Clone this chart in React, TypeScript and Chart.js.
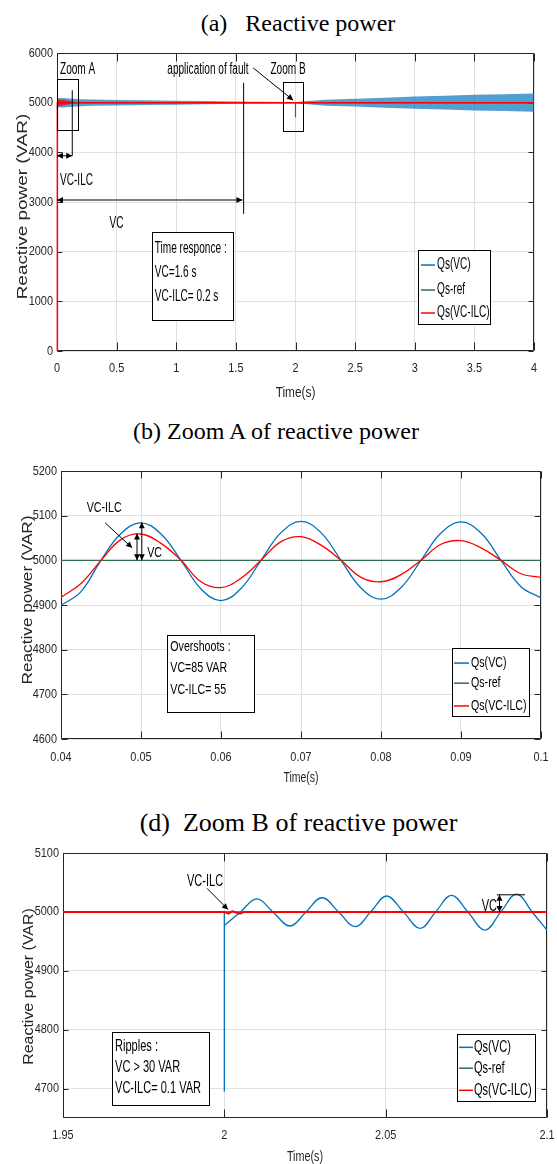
import React, { useEffect, useRef } from "react";
import { Chart, registerables } from "chart.js";

Chart.register(...registerables);

// ================= DATA =================
// Panel (a): reactive power, 0 - 4 s
const xTicksA = [0, 0.5, 1, 1.5, 2, 2.5, 3, 3.5, 4];
const yTicksA = [0, 1000, 2000, 3000, 4000, 5000, 6000];
// envelope of the dense Qs(VC) oscillation
const timeA = [0, 0.003, 0.05, 0.1, 0.2, 0.3, 0.5, 0.75, 1.0, 1.25, 1.5, 1.75, 1.995, 2.0, 2.05, 2.1, 2.25, 2.5, 2.75, 3.0, 3.25, 3.5, 3.75, 4.0];
const vcUpperA = [0, 5090, 5095, 5085, 5070, 5062, 5055, 5047, 5040, 5032, 5022, 5016, 5013, 5013, 5025, 5032, 5060, 5077, 5100, 5123, 5140, 5157, 5170, 5183];
const vcLowerA = [0, 4910, 4905, 4915, 4930, 4938, 4945, 4953, 4960, 4968, 4978, 4984, 4987, 4987, 4975, 4968, 4940, 4923, 4900, 4877, 4860, 4843, 4830, 4817];
const faultTimeA = [2, 2];
const faultValA = [5000, 4700];
const ilcTimeA = [0, 0.003, 4];
const ilcValA = [0, 5000, 5000];
const ilcBandTimeA = [0, 0.003, 0.02, 0.05, 0.08, 0.12, 0.16, 0.2, 0.25];
const ilcUpperA = [0, 5060, 5065, 5058, 5045, 5030, 5015, 5006, 5000];
const ilcLowerA = [0, 4930, 4935, 4945, 4958, 4972, 4986, 4995, 5000];
const refTimeA = [0, 4];
const refValA = [5000, 5000];

// Panel (b): zoom A, 0.04 - 0.1 s
const xTicksB = [0.04, 0.05, 0.06, 0.07, 0.08, 0.09, 0.1];
const yTicksB = [4600, 4700, 4800, 4900, 5000, 5100, 5200];
const timeB = [0.04, 0.0425, 0.045, 0.0475, 0.05, 0.0525, 0.055, 0.0575, 0.06, 0.0625, 0.065, 0.0675, 0.07, 0.0725, 0.075, 0.0775, 0.08, 0.0825, 0.085, 0.0875, 0.09, 0.0925, 0.095, 0.0975, 0.1];
const vcB = [4899, 4930, 5000, 5060, 5084, 5059, 5000, 4936, 4910, 4937, 5000, 5062, 5087, 5062, 5000, 4938, 4913, 4939, 5000, 5061, 5086, 5061, 5000, 4941, 4916];
const ilcB = [4917, 4948, 5000, 5047, 5059, 5038, 5000, 4952, 4939, 4960, 5000, 5042, 5053, 5034, 5000, 4962, 4952, 4968, 5000, 5036, 5044, 5028, 5000, 4970, 4962];
const refTimeB = [0.04, 0.1];
const refValB = [5000, 5000];

// Panel (d): zoom B, 1.95 - 2.1 s
const xTicksD = [1.95, 2, 2.05, 2.1];
const yTicksD = [4700, 4800, 4900, 5000, 5100];
const faultTimeD = [1.95, 2, 2, 2];
const faultValD = [5000, 5000, 4695, 4977];
const timeD = [2.0, 2.005, 2.0101, 2.0152, 2.0204, 2.0253, 2.0303, 2.0354, 2.0406, 2.0455, 2.0503, 2.0555, 2.0607, 2.0655, 2.0704, 2.0756, 2.0808, 2.0857, 2.0906, 2.0955, 2.1];
const vcD = [4977, 5000, 5022, 4999, 4976, 5000, 5024, 5000, 4975, 5001, 5027, 5000, 4972, 5000, 5028, 4999, 4969, 5000, 5030, 4999, 4969];
const ilcTimeD = [1.95, 2.0, 2.0012, 2.0025, 2.0048, 2.0062, 2.1];
const ilcValD = [5000, 5000, 4997, 5001, 4997, 5000, 5000];
const refTimeD = [1.95, 2.1];
const refValD = [5000, 5000];

const legendLabels = ["Qs(VC)", "Qs-ref", "Qs(VC-ILC)"];
const titles = ["(a)   Reactive power", "(b) Zoom A of reactive power", "(d)  Zoom B of reactive power"];
const xTitle = "Time(s)";
const yTitle = "Reactive power (VAR)";

// ================= STYLE =================
const BLUE = "#0072BD";
const BLUE_BAND = "rgba(0,114,189,0.68)";
const GREEN = "#2E6E4E";
const RED = "#FF0000";
const RED_BAND = "rgba(255,0,0,0.75)";
const GRID = "#e0e0e0";
const AXIS = "#262626";
const FONT_SANS = '"Liberation Sans", Arial, Helvetica, sans-serif';
const FONT_SERIF = '"Liberation Serif", "Times New Roman", serif';
const legendColors = [BLUE, GREEN, RED];

const pts = (xs: number[], ys: number[]) => xs.map((x, i) => ({ x, y: ys[i] }));
const fmt = (v: number) => String(Math.round(v * 10000) / 10000);

function lineDs(label: string, data: any[], color: string, width: number, order: number, extra: any = {}) {
  return { label, data, borderColor: color, backgroundColor: color, borderWidth: width, pointRadius: 0, tension: 0, fill: false, order, ...extra };
}

// ---------- drawing helpers ----------
function sText(ctx: any, s: string, x: number, y: number, size: number, sx: number, align: any = "left", color = "#000") {
  ctx.save();
  ctx.font = `${size}px ${FONT_SANS}`;
  ctx.fillStyle = color;
  ctx.textAlign = align;
  ctx.textBaseline = "middle";
  ctx.translate(x, y);
  ctx.scale(sx, 1);
  ctx.fillText(s, 0, 0);
  ctx.restore();
}
function seg(ctx: any, x1: number, y1: number, x2: number, y2: number, color = "#000", w = 1) {
  ctx.save();
  ctx.strokeStyle = color;
  ctx.lineWidth = w;
  ctx.beginPath();
  ctx.moveTo(x1, y1);
  ctx.lineTo(x2, y2);
  ctx.stroke();
  ctx.restore();
}
function head(ctx: any, x1: number, y1: number, x2: number, y2: number, len = 6, hw = 3) {
  const a = Math.atan2(y2 - y1, x2 - x1);
  const c = Math.cos(a), s = Math.sin(a);
  ctx.save();
  ctx.fillStyle = "#000";
  ctx.beginPath();
  ctx.moveTo(x2, y2);
  ctx.lineTo(x2 - len * c + hw * s, y2 - len * s - hw * c);
  ctx.lineTo(x2 - len * c - hw * s, y2 - len * s + hw * c);
  ctx.closePath();
  ctx.fill();
  ctx.restore();
}
function arrow(ctx: any, x1: number, y1: number, x2: number, y2: number, both = false) {
  seg(ctx, x1, y1, x2, y2);
  head(ctx, x1, y1, x2, y2);
  if (both) head(ctx, x2, y2, x1, y1);
}
function box(ctx: any, x1: number, y1: number, x2: number, y2: number, fill = false) {
  const l = Math.round(Math.min(x1, x2)) + 0.5, t = Math.round(Math.min(y1, y2)) + 0.5;
  const w = Math.round(Math.abs(x2 - x1)), h = Math.round(Math.abs(y2 - y1));
  ctx.save();
  if (fill) {
    ctx.fillStyle = "#fff";
    ctx.fillRect(l, t, w, h);
  }
  ctx.strokeStyle = "#000";
  ctx.lineWidth = 1;
  ctx.strokeRect(l, t, w, h);
  ctx.restore();
}

interface Layout {
  canvasTop: number; height: number; padTop: number; padRight: number;
  yWidth: number; xHeight: number; xLabelOff: number; yLabelGap: number; tickSize: number; tickSx: number;
  yTitleX: number; yTitleY: number; yTitleSx: number; xTitleY: number; xTitleSize: number; xTitleSx: number;
  xTickLen: number; yTickLen: number;
}

function framePlugin(L: Layout) {
  return {
    id: "matlabFrame",
    // axes box and inward ticks sit underneath the data, as in MATLAB
    beforeDatasetsDraw(chart: any) {
      const { ctx, chartArea: a } = chart;
      const xs = chart.scales.x, ys = chart.scales.y;
      const l = Math.round(a.left) + 0.5, r = Math.round(a.right) - 0.5;
      const t = Math.round(a.top) + 0.5, b = Math.round(a.bottom) - 0.5;
      ctx.save();
      ctx.strokeStyle = AXIS;
      ctx.lineWidth = 1;
      ctx.beginPath();
      ctx.moveTo(l, t); ctx.lineTo(r, t); ctx.lineTo(r, b); ctx.lineTo(l, b); ctx.closePath();
      for (const tk of xs.ticks) {
        const p = Math.round(xs.getPixelForValue(tk.value)) + 0.5;
        ctx.moveTo(p, t); ctx.lineTo(p, t + L.xTickLen);
        ctx.moveTo(p, b); ctx.lineTo(p, b - L.xTickLen);
      }
      for (const tk of ys.ticks) {
        const p = Math.round(ys.getPixelForValue(tk.value)) + 0.5;
        ctx.moveTo(l, p); ctx.lineTo(l + L.yTickLen, p);
        ctx.moveTo(r, p); ctx.lineTo(r - L.yTickLen, p);
      }
      ctx.stroke();
      ctx.restore();
    },
    afterDatasetsDraw(chart: any) {
      const { ctx, chartArea: a } = chart;
      const xs = chart.scales.x, ys = chart.scales.y;
      ctx.save();
      // tick labels from the library's scales (condensed like the original)
      for (const tk of xs.ticks) {
        sText(ctx, fmt(tk.value), xs.getPixelForValue(tk.value), a.bottom + L.xLabelOff, L.tickSize, L.tickSx, "center", AXIS);
      }
      for (const tk of ys.ticks) {
        sText(ctx, fmt(tk.value), a.left - L.yLabelGap, ys.getPixelForValue(tk.value), L.tickSize, L.tickSx, "right", AXIS);
      }
      // axis titles
      ctx.save();
      ctx.font = `14px ${FONT_SANS}`;
      ctx.fillStyle = AXIS;
      ctx.translate(L.yTitleX, L.yTitleY - L.canvasTop);
      ctx.rotate(-Math.PI / 2);
      ctx.scale(L.yTitleSx, 1);
      ctx.textAlign = "center";
      ctx.textBaseline = "alphabetic";
      ctx.fillText(yTitle, 0, 0);
      ctx.restore();
      sText(ctx, xTitle, (a.left + a.right) / 2, L.xTitleY - L.canvasTop, L.xTitleSize, L.xTitleSx, "center", AXIS);
      ctx.restore();
    },
  };
}

function annPlugin(draw: (ctx: any, X: (v: number) => number, Y: (v: number) => number) => void) {
  return {
    id: "annotations",
    afterDraw(chart: any) {
      const X = (v: number) => chart.scales.x.getPixelForValue(v);
      const Y = (v: number) => chart.scales.y.getPixelForValue(v);
      chart.ctx.save();
      draw(chart.ctx, X, Y);
      chart.ctx.restore();
    },
  };
}

function drawLegend(ctx: any, X: any, Y: any, bx: number[], itemV: number[], sg: number[], f: number, sx: number) {
  box(ctx, X(bx[0]), Y(bx[1]), X(bx[2]), Y(bx[3]), true);
  legendLabels.forEach((lab, i) => {
    const y = Y(itemV[i]);
    seg(ctx, X(sg[0]), y, X(sg[1]), y, legendColors[i], 1.5);
    sText(ctx, lab, X(sg[2]), y, f, sx, "left", "#000");
  });
}

function makeConfig(L: Layout, datasets: any[], xr: number[], yr: number[], xTicks: number[], yTicks: number[], ann: any) {
  return {
    type: "line",
    data: { datasets },
    options: {
      responsive: false,
      maintainAspectRatio: false,
      animation: false,
      devicePixelRatio: 1,
      events: [],
      layout: { padding: { top: L.padTop, right: L.padRight, left: 0, bottom: 0 } },
      plugins: { legend: { display: false }, tooltip: { enabled: false }, title: { display: false } },
      elements: { point: { radius: 0 } },
      scales: {
        x: {
          type: "linear", min: xr[0], max: xr[1],
          afterBuildTicks: (s: any) => { s.ticks = xTicks.map((v) => ({ value: v })); },
          afterFit: (s: any) => { s.height = L.xHeight; },
          grid: { color: GRID, lineWidth: 1, drawTicks: false },
          border: { display: false },
          ticks: { display: false, autoSkip: false, maxRotation: 0 },
        },
        y: {
          type: "linear", min: yr[0], max: yr[1],
          afterBuildTicks: (s: any) => { s.ticks = yTicks.map((v) => ({ value: v })); },
          afterFit: (s: any) => { s.width = L.yWidth; },
          grid: { color: GRID, lineWidth: 1, drawTicks: false },
          border: { display: false },
          ticks: { display: false, autoSkip: false },
        },
      },
    },
    plugins: [framePlugin(L), annPlugin(ann)],
  };
}

// ---------------- layouts ----------------
const LA: Layout = {
  canvasTop: 40, height: 370, padTop: 13, padRight: 23, yWidth: 57, xHeight: 59, xLabelOff: 17, yLabelGap: 4, tickSize: 13, tickSx: 0.84,
  yTitleX: 27, yTitleY: 206.5, yTitleSx: 1.35, xTitleY: 393, xTitleSize: 15, xTitleSx: 0.79, xTickLen: 8, yTickLen: 5,
};
const LB: Layout = {
  canvasTop: 455, height: 345, padTop: 16, padRight: 16, yWidth: 61, xHeight: 61, xLabelOff: 18, yLabelGap: 4, tickSize: 13, tickSx: 0.84,
  yTitleX: 31.5, yTitleY: 600, yTitleSx: 1.23, xTitleY: 778, xTitleSize: 15, xTitleSx: 0.7, xTickLen: 7, yTickLen: 6,
};
const LD: Layout = {
  canvasTop: 840, height: 324, padTop: 13, padRight: 10, yWidth: 63, xHeight: 46, xLabelOff: 17, yLabelGap: 4, tickSize: 13, tickSx: 0.84,
  yTitleX: 33, yTitleY: 986.5, yTitleSx: 1.14, xTitleY: 1157, xTitleSize: 15, xTitleSx: 0.72, xTickLen: 8, yTickLen: 5,
};

function configA() {
  const ds = [
    lineDs("Qs(VC-ILC) band+", pts(ilcBandTimeA, ilcUpperA), RED_BAND, 0, 0, { fill: "+1", backgroundColor: RED_BAND }),
    lineDs("Qs(VC-ILC) band-", pts(ilcBandTimeA, ilcLowerA), RED_BAND, 0, 0),
    lineDs("Qs(VC-ILC)", pts(ilcTimeA, ilcValA), RED, 1.5, 1, { clip: 2 }),
    lineDs("Qs-ref", pts(refTimeA, refValA), GREEN, 1.2, 2),
    lineDs("Qs(VC) fault", pts(faultTimeA, faultValA), BLUE, 1.2, 3),
    lineDs("Qs(VC) env+", pts(timeA, vcUpperA), BLUE_BAND, 0, 4, { fill: "+1", backgroundColor: BLUE_BAND }),
    lineDs("Qs(VC) env-", pts(timeA, vcLowerA), BLUE_BAND, 0, 4),
  ];
  const ann = (ctx: any, X: any, Y: any) => {
    const f = 16, sx = 0.63;
    sText(ctx, "Zoom A", X(0.025), Y(5657), f, sx);
    box(ctx, X(0), Y(5480), X(0.175), Y(4450));
    seg(ctx, X(0.128), Y(5250), X(0.128), Y(3930));
    arrow(ctx, X(0), Y(3930), X(0.128), Y(3930), true);
    sText(ctx, "VC-ILC", X(0.025), Y(3440), f, sx);
    arrow(ctx, X(0), Y(3040), X(1.555), Y(3040), true);
    seg(ctx, X(1.565), Y(5400), X(1.565), Y(2760));
    sText(ctx, "VC", X(0.5), Y(2560), f, sx, "center");
    sText(ctx, "application of fault", X(0.925), Y(5657), f, sx);
    arrow(ctx, X(1.645), Y(5700), X(1.98), Y(5050));
    sText(ctx, "Zoom B", X(1.79), Y(5657), f, sx);
    box(ctx, X(1.898), Y(5420), X(2.069), Y(4430));
    box(ctx, X(0.797), Y(2395), X(1.476), Y(624), true);
    sText(ctx, "Time responce :", X(0.82), Y(2053), f, sx);
    sText(ctx, "VC=1.6 s", X(0.82), Y(1570), f, sx);
    sText(ctx, "VC-ILC= 0.2 s", X(0.82), Y(1087), f, sx);
    drawLegend(ctx, X, Y, [3.027, 2033, 3.63, 543], [1731, 1228, 765], [3.052, 3.17, 3.187], f, sx);
  };
  return makeConfig(LA, ds, [0, 4], [0, 6000], xTicksA, yTicksA, ann);
}

function configB() {
  const ds = [
    lineDs("Qs(VC-ILC)", pts(timeB, ilcB), RED, 1.3, 0, { tension: 0.4 }),
    lineDs("Qs-ref", pts(refTimeB, refValB), GREEN, 1.3, 1),
    lineDs("Qs(VC)", pts(timeB, vcB), BLUE, 1.3, 2, { tension: 0.4 }),
  ];
  const ann = (ctx: any, X: any, Y: any) => {
    const f = 14, sx = 0.76;
    sText(ctx, "VC-ILC", X(0.04539), Y(5117), f, sx, "center");
    arrow(ctx, X(0.04551), Y(5084), X(0.0489), Y(5028));
    arrow(ctx, X(0.0495), Y(5000), X(0.0495), Y(5060), true);
    arrow(ctx, X(0.0501), Y(5000), X(0.0501), Y(5085), true);
    sText(ctx, "VC", X(0.05078), Y(5016), f, sx);
    box(ctx, X(0.05328), Y(4833), X(0.06418), Y(4660), true);
    sText(ctx, "Overshoots :", X(0.05366), Y(4806), f, sx);
    sText(ctx, "VC=85 VAR", X(0.05366), Y(4759), f, sx);
    sText(ctx, "VC-ILC= 55", X(0.05366), Y(4710), f, sx);
    drawLegend(ctx, X, Y, [0.08887, 4804, 0.09852, 4652], [4770, 4725, 4674], [0.08912, 0.091, 0.09125], f, sx);
  };
  return makeConfig(LB, ds, [0.04, 0.1], [4600, 5200], xTicksB, yTicksB, ann);
}

function configD() {
  const ds = [
    lineDs("Qs(VC-ILC)", pts(ilcTimeD, ilcValD), RED, 2, 0),
    lineDs("Qs-ref", pts(refTimeD, refValD), GREEN, 1.3, 1),
    lineDs("Qs(VC) fault", pts(faultTimeD, faultValD), BLUE, 1.3, 2),
    lineDs("Qs(VC)", pts(timeD, vcD), BLUE, 1.3, 2, { tension: 0.4 }),
  ];
  const ann = (ctx: any, X: any, Y: any) => {
    const f = 16, sx = 0.69;
    sText(ctx, "VC-ILC", X(1.98843), Y(5051), f, sx);
    arrow(ctx, X(1.99463), Y(5040), X(2.00114), Y(5004));
    seg(ctx, X(2.0845), Y(5029), X(2.0932), Y(5029));
    arrow(ctx, X(2.08528), Y(5000), X(2.08528), Y(5029), true);
    sText(ctx, "VC", X(2.0845), Y(5009.5), f, sx, "right");
    box(ctx, X(1.96519), Y(4795.4), X(1.99525), Y(4671.7), true);
    sText(ctx, "Ripples :", X(1.96612), Y(4771.7), f, sx);
    sText(ctx, "VC > 30 VAR", X(1.96612), Y(4736), f, sx);
    sText(ctx, "VC-ILC= 0.1 VAR", X(1.96612), Y(4700.5), f, sx);
    drawLegend(ctx, X, Y, [2.07211, 4792, 2.09628, 4678], [4770, 4734.6, 4697], [2.07273, 2.07707, 2.07738], f, sx);
  };
  return makeConfig(LD, ds, [1.95, 2.1], [4650, 5100], xTicksD, yTicksD, ann);
}

function Title({ text, cx, baseline, size }: { text: string; cx: number; baseline: number; size: number }) {
  const top = baseline - size * 0.837;
  return (
    <div
      style={{
        position: "absolute", left: cx - 250, width: 500, top, textAlign: "center",
        fontFamily: FONT_SERIF, fontSize: size, lineHeight: `${size}px`, whiteSpace: "pre", color: "#000",
      }}
    >
      {text}
    </div>
  );
}

export default function App() {
  const refA = useRef<HTMLCanvasElement>(null);
  const refB = useRef<HTMLCanvasElement>(null);
  const refD = useRef<HTMLCanvasElement>(null);

  useEffect(() => {
    const charts = [
      new Chart(refA.current as any, configA() as any),
      new Chart(refB.current as any, configB() as any),
      new Chart(refD.current as any, configD() as any),
    ];
    return () => charts.forEach((c) => c.destroy());
  }, []);

  const cv = (L: Layout) => ({ position: "absolute" as const, left: 0, top: L.canvasTop, width: 557, height: L.height });

  return (
    <div style={{ position: "absolute", left: 0, top: 0, width: 557, height: 1164, background: "#fff", overflow: "hidden" }}>
      <Title text={titles[0]} cx={298} baseline={30.7} size={24} />
      <canvas ref={refA} width={557} height={LA.height} style={cv(LA)} />
      <Title text={titles[1]} cx={276} baseline={439.3} size={24} />
      <canvas ref={refB} width={557} height={LB.height} style={cv(LB)} />
      <Title text={titles[2]} cx={298.5} baseline={831.7} size={26} />
      <canvas ref={refD} width={557} height={LD.height} style={cv(LD)} />
    </div>
  );
}
